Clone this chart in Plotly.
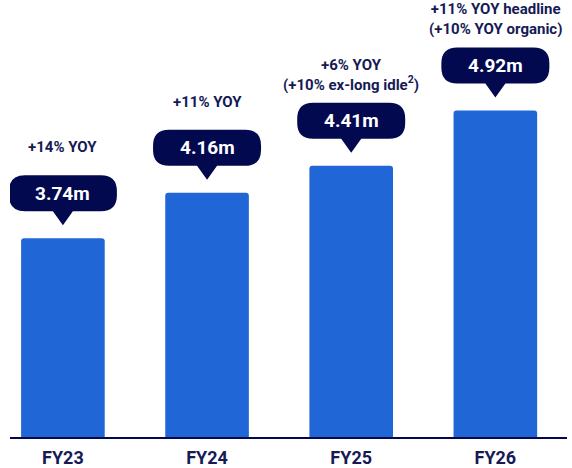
import plotly.graph_objects as go

categories = ["FY23", "FY24", "FY25", "FY26"]
values = [3.74, 4.16, 4.41, 4.92]
value_labels = ["3.74m", "4.16m", "4.41m", "4.92m"]
growth_labels = [
    "+14% YOY",
    "+11% YOY",
    "+6% YOY<br>(+10% ex-long idle<sup>2</sup>)",
    "+11% YOY headline<br>(+10% YOY organic)",
]

BAR = "#2166d6"
NAVY = "#03094f"
TEXT = "#161a55"
FONT = "Roboto"

fig = go.Figure()
fig.add_trace(go.Bar(
    x=list(range(len(categories))), y=values,
    marker=dict(color=BAR, cornerradius=3, line=dict(width=0)),
    width=0.58, hoverinfo="skip",
))

# callout shape geometry (pixels, y up)
g, ph, pw, W, H, r = 13, 14, 10, 108, 36, 16
yb = g + ph
yt = yb + H
hw = W / 2
path = (
    f"M 0,{g} L {pw},{yb} L {hw-r},{yb} Q {hw},{yb} {hw},{yb+r} "
    f"L {hw},{yt-r} Q {hw},{yt} {hw-r},{yt} L {-hw+r},{yt} "
    f"Q {-hw},{yt} {-hw},{yt-r} L {-hw},{yb+r} Q {-hw},{yb} {-hw+r},{yb} "
    f"L {-pw},{yb} Z"
)

for i, (v, lab, gl) in enumerate(zip(values, value_labels, growth_labels)):
    fig.add_shape(type="path", path=path, xref="x", yref="y",
                  xsizemode="pixel", ysizemode="pixel", xanchor=i, yanchor=v,
                  fillcolor=NAVY, line=dict(width=0), layer="above")
    fig.add_annotation(x=i, y=v, xref="x", yref="y", text=lab, showarrow=False,
                       yshift=yb + H / 2, yanchor="middle",
                       font=dict(family=FONT, size=19, color="white", weight=700))
    fig.add_annotation(x=i, y=v, xref="x", yref="y", text=gl, showarrow=False,
                       yshift=91, yanchor="middle",
                       font=dict(family=FONT, size=15, color=TEXT, weight=700))

fig.update_layout(
    width=572, height=468,
    margin=dict(l=10, r=5, t=0, b=31),
    plot_bgcolor="white", paper_bgcolor="white",
    showlegend=False,
    xaxis=dict(
        range=[-0.367, 3.497],
        tickmode="array", tickvals=list(range(len(categories))), ticktext=categories,
        showline=True, linecolor=NAVY, linewidth=2,
        showgrid=False, zeroline=False, ticks="",
        ticklabelstandoff=3, automargin=False,
        tickfont=dict(family=FONT, size=18, color=TEXT, weight=700),
        fixedrange=True,
    ),
    yaxis=dict(range=[1.905, 5.94], visible=False, showgrid=False, zeroline=False,
               fixedrange=True, automargin=False),
)

fig.write_html(
    "out.html",
    config={"displayModeBar": False},
    post_script=(
        "document.documentElement.style.margin='0';"
        "document.body.style.margin='0';"
        "document.body.style.overflow='hidden';"
        "window.scrollTo(0,0);"
    ),
)
